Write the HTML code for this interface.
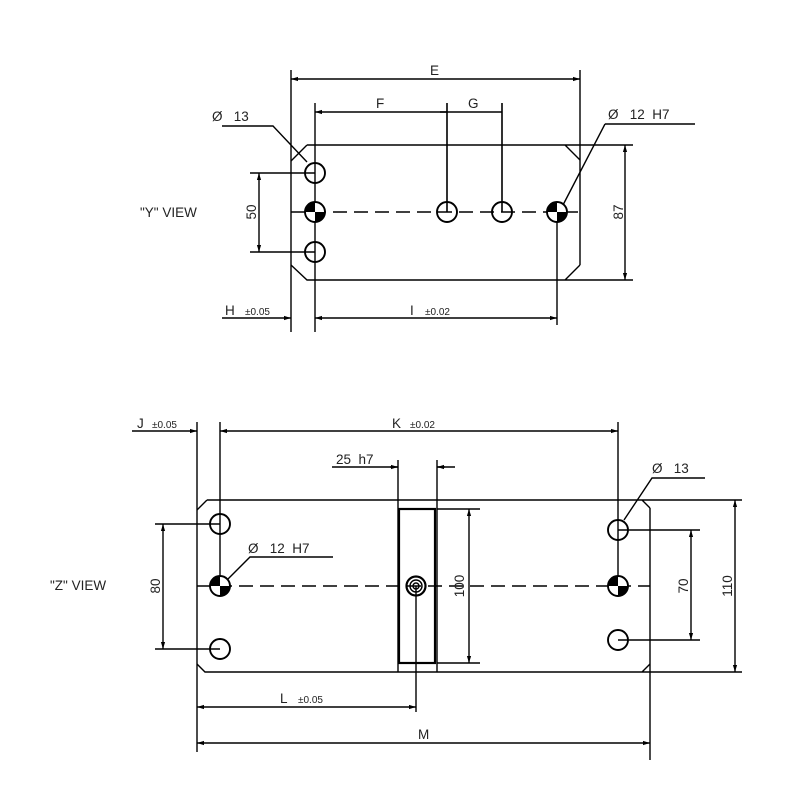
<!DOCTYPE html>
<html><head><meta charset="utf-8"><style>
html,body{margin:0;padding:0;background:#fff}
svg{display:block}
text{font-family:"Liberation Sans",sans-serif;fill:#222}
</style></head><body>
<svg width="800" height="800" viewBox="0 0 800 800" xmlns="http://www.w3.org/2000/svg">
<defs>
<marker id="a" viewBox="0 0 10 10" refX="10" refY="5" markerWidth="7" markerHeight="7" orient="auto-start-reverse" markerUnits="userSpaceOnUse"><path d="M0,2 L10,5 L0,8 z" fill="#000"/></marker>
</defs>
<g stroke="#000" stroke-width="1.4" fill="none">
<path d="M307,145 L633,145 M565,145 L580,160 M291,161 L307,145 M291,265 L307,280 L633,280 M565,280 L580,265"/>
<path d="M291,70 L291,332 M580,70 L580,265"/>
<path d="M291,79 L580,79" marker-start="url(#a)" marker-end="url(#a)"/>
<path d="M315,103 L315,332"/>
<path d="M315,112 L447,112" marker-start="url(#a)"/>
<path d="M447,103 L447,212 M502,103 L502,212 M440,112 L502,112" stroke-width="1.6"/>
<path d="M557,212 L557,325"/>
<path d="M291,212 L580,212" stroke-dasharray="14,7"/>
<g stroke-width="1.9">
<circle cx="315" cy="173" r="10"/><circle cx="315" cy="252" r="10"/>
<circle cx="447" cy="212" r="10"/><circle cx="502" cy="212" r="10"/>
</g>
<path d="M222,126 L273,126 L307,162" /><path d="M605,124 L695,124" /><path d="M605,124 L563,205"/>
<path d="M250,173 L315,173 M250,252 L315,252"/>
<path d="M259,173 L259,252" marker-start="url(#a)" marker-end="url(#a)"/>
<path d="M625,145 L625,280" marker-start="url(#a)" marker-end="url(#a)"/>
<path d="M222,318 L291,318" marker-end="url(#a)"/>
<path d="M315,318 L557,318" marker-start="url(#a)" marker-end="url(#a)"/>
<path d="M207,500 L742,500 M642,500 L650,508 M197,510 L207,500 M197,664 L205,672 L742,672 M642,672 L650,664"/>
<path d="M197,422 L197,752 M650,508 L650,760"/>
<path d="M220,422 L220,586 M618,422 L618,586"/>
<path d="M132,431 L197,431" marker-end="url(#a)"/>
<path d="M220,431 L618,431" marker-start="url(#a)" marker-end="url(#a)"/>
<path d="M197,586 L650,586" stroke-dasharray="14,7"/>
<g stroke-width="1.9">
<circle cx="220" cy="524" r="10"/><circle cx="220" cy="649" r="10"/>
<circle cx="618" cy="530" r="10"/><circle cx="618" cy="640" r="10"/>
</g>
<path d="M398,460 L398,672 M437,460 L437,672"/>
<rect x="399" y="509" width="36" height="154" stroke-width="2.2"/>
<path d="M437,509 L480,509 M437,663 L480,663"/>
<path d="M469,509 L469,663" marker-start="url(#a)" marker-end="url(#a)"/>
<path d="M332,467 L398,467 M437,467 L455,467"/>
<path d="M390,467 L398,467" marker-end="url(#a)"/><path d="M445,467 L437,467" marker-end="url(#a)"/>
<circle cx="416" cy="586" r="9.5" stroke-width="2.2"/><circle cx="416" cy="586" r="6"/><circle cx="416" cy="586" r="3"/>
<path d="M416,586 L416,712"/>
<path d="M155,524 L220,524 M155,649 L220,649"/>
<path d="M163,524 L163,649" marker-start="url(#a)" marker-end="url(#a)"/>
<path d="M618,530 L700,530 M618,640 L700,640"/>
<path d="M691,530 L691,640" marker-start="url(#a)" marker-end="url(#a)"/>
<path d="M735,500 L735,672" marker-start="url(#a)" marker-end="url(#a)"/>
<path d="M333,557 L250,557 L226,581"/>
<path d="M705,478 L652,478 L624,520"/>
<path d="M197,707 L416,707" marker-start="url(#a)" marker-end="url(#a)"/>
<path d="M197,743 L650,743" marker-start="url(#a)" marker-end="url(#a)"/>
</g>
<g>
<g transform="translate(315,212)"><circle r="10" fill="#fff" stroke="#000" stroke-width="1.9"/><path d="M0,0 L-10,0 A10,10 0 0 1 0,-10 z M0,0 L10,0 A10,10 0 0 1 0,10 z" fill="#000"/></g>
<g transform="translate(557,212)"><circle r="10" fill="#fff" stroke="#000" stroke-width="1.9"/><path d="M0,0 L-10,0 A10,10 0 0 1 0,-10 z M0,0 L10,0 A10,10 0 0 1 0,10 z" fill="#000"/></g>
<g transform="translate(220,586)"><circle r="10" fill="#fff" stroke="#000" stroke-width="1.9"/><path d="M0,0 L-10,0 A10,10 0 0 1 0,-10 z M0,0 L10,0 A10,10 0 0 1 0,10 z" fill="#000"/></g>
<g transform="translate(618,586)"><circle r="10" fill="#fff" stroke="#000" stroke-width="1.9"/><path d="M0,0 L-10,0 A10,10 0 0 1 0,-10 z M0,0 L10,0 A10,10 0 0 1 0,10 z" fill="#000"/></g>
</g>
<g font-size="13.5">
<text x="430" y="75">E</text>
<text x="376" y="108">F</text>
<text x="468" y="108">G</text>
<text x="212" y="121">Ø&#160;&#160;&#160;13</text>
<text x="608" y="119">Ø&#160;&#160;&#160;12&#160;&#160;H7</text>
<text x="140" y="217">"Y" VIEW</text>
<text transform="translate(256,212) rotate(-90)" text-anchor="middle">50</text>
<text transform="translate(623,212) rotate(-90)" text-anchor="middle">87</text>
<text x="225" y="315">H</text><text x="245" y="315" font-size="10">±0.05</text>
<text x="410" y="315">I</text><text x="425" y="315" font-size="10">±0.02</text>
<text x="137" y="428">J</text><text x="152" y="428" font-size="10">±0.05</text>
<text x="392" y="428">K</text><text x="410" y="428" font-size="10">±0.02</text>
<text x="336" y="464">25&#160;&#160;h7</text>
<text x="652" y="473">Ø&#160;&#160;&#160;13</text>
<text x="248" y="553">Ø&#160;&#160;&#160;12&#160;&#160;H7</text>
<text x="50" y="590">"Z" VIEW</text>
<text transform="translate(160,586) rotate(-90)" text-anchor="middle">80</text>
<text transform="translate(464,586) rotate(-90)" text-anchor="middle">100</text>
<text transform="translate(688,586) rotate(-90)" text-anchor="middle">70</text>
<text transform="translate(732,586) rotate(-90)" text-anchor="middle">110</text>
<text x="280" y="703">L</text><text x="298" y="703" font-size="10">±0.05</text>
<text x="418" y="739">M</text>
</g>
</svg>
</body></html>
